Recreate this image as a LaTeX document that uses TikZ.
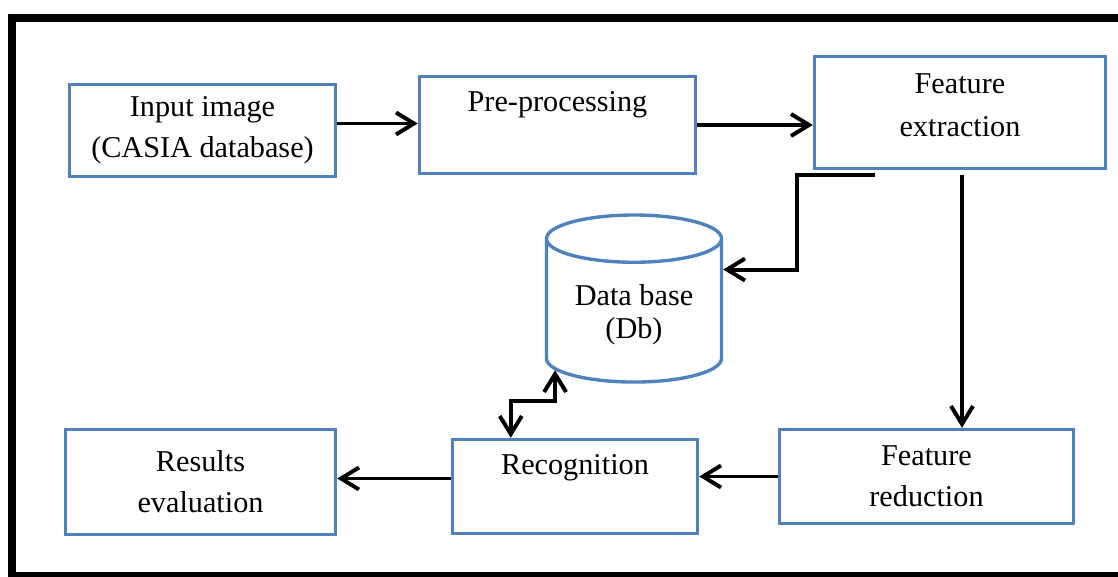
\documentclass[tikz,border=0pt]{standalone}
\usepackage{fontspec}
\setmainfont{Liberation Serif}
\usetikzlibrary{shapes.geometric,arrows.meta,calc}
\definecolor{boxblue}{RGB}{79,129,189}

\begin{document}
\begin{tikzpicture}[x=0.025cm, y=-0.025cm,
    block/.style={rectangle, draw=boxblue, line width=2.4pt, align=center, font=\fontsize{21.5}{29}\selectfont},
    store/.style={cylinder, shape border rotate=90, aspect=0.37, draw=boxblue, line width=2.4pt, align=center, font=\fontsize{21.5}{23.5}\selectfont},
    lifted/.style={text depth=#1},
    arrow/.style={-{Straight Barb[length=4.5mm,width=5.5mm]}, line width=2.8pt},
    twoway/.style={{Straight Barb[length=4.5mm,width=5.5mm]}-{Straight Barb[length=4.5mm,width=5.5mm]}, line width=2.8pt}
]
    \useasboundingbox (0,0) rectangle (1118,577);
    \draw[line width=5.3pt] (12,18) rectangle (1135,576);

    \node[block, minimum width=6.65cm, minimum height=2.3cm] (input) at (202.5,130.5) {Input image\\(CASIA database)};
    \node[block, lifted=1.17cm, minimum width=6.9cm, minimum height=2.425cm] (pre) at (557.5,125) {Pre-processing};
    \node[block, lifted=0.375cm, minimum width=7.275cm, minimum height=2.8cm, font=\fontsize{21.5}{31}\selectfont] (fe) at (960,112.5) {Feature\\extraction};
    \node[store, minimum width=4.375cm, minimum height=4.175cm] (db) at (634,315) {Data base\\(Db)};
    \node[block, minimum width=6.75cm, minimum height=2.625cm] (res) at (200.5,482) {Results\\evaluation};
    \node[block, lifted=1.09cm, minimum width=6.125cm, minimum height=2.35cm] (rec) at (575,486.5) {Recognition};
    \node[block, minimum width=7.35cm, minimum height=2.35cm] (fr) at (926.5,476.5) {Feature\\reduction};

    \coordinate (a1) at ($(input.east)+(0,-7)$);
    \coordinate (a2) at ($(fe.south)+(2,5)$);
    \coordinate (a3) at ($(rec.west)+(0,-8)$);

    \draw[arrow] (a1) -- (a1 -| pre.west);
    \draw[arrow] (pre.east) -- (pre.east -| fe.west);
    \draw[arrow] ($(fe.south west)+(62,5)$) -- ++(-78,0) |- (db.27);
    \draw[arrow] (a2) -- (a2 |- fr.north);
    \draw[arrow] (fr.west) -- (fr.west -| rec.east);
    \draw[arrow] (a3) -- (a3 -| res.east);
    \draw[twoway] ($(rec.north west)+(60,0)$) -- ++(0,-37) -| (db.215);
\end{tikzpicture}
\end{document}
